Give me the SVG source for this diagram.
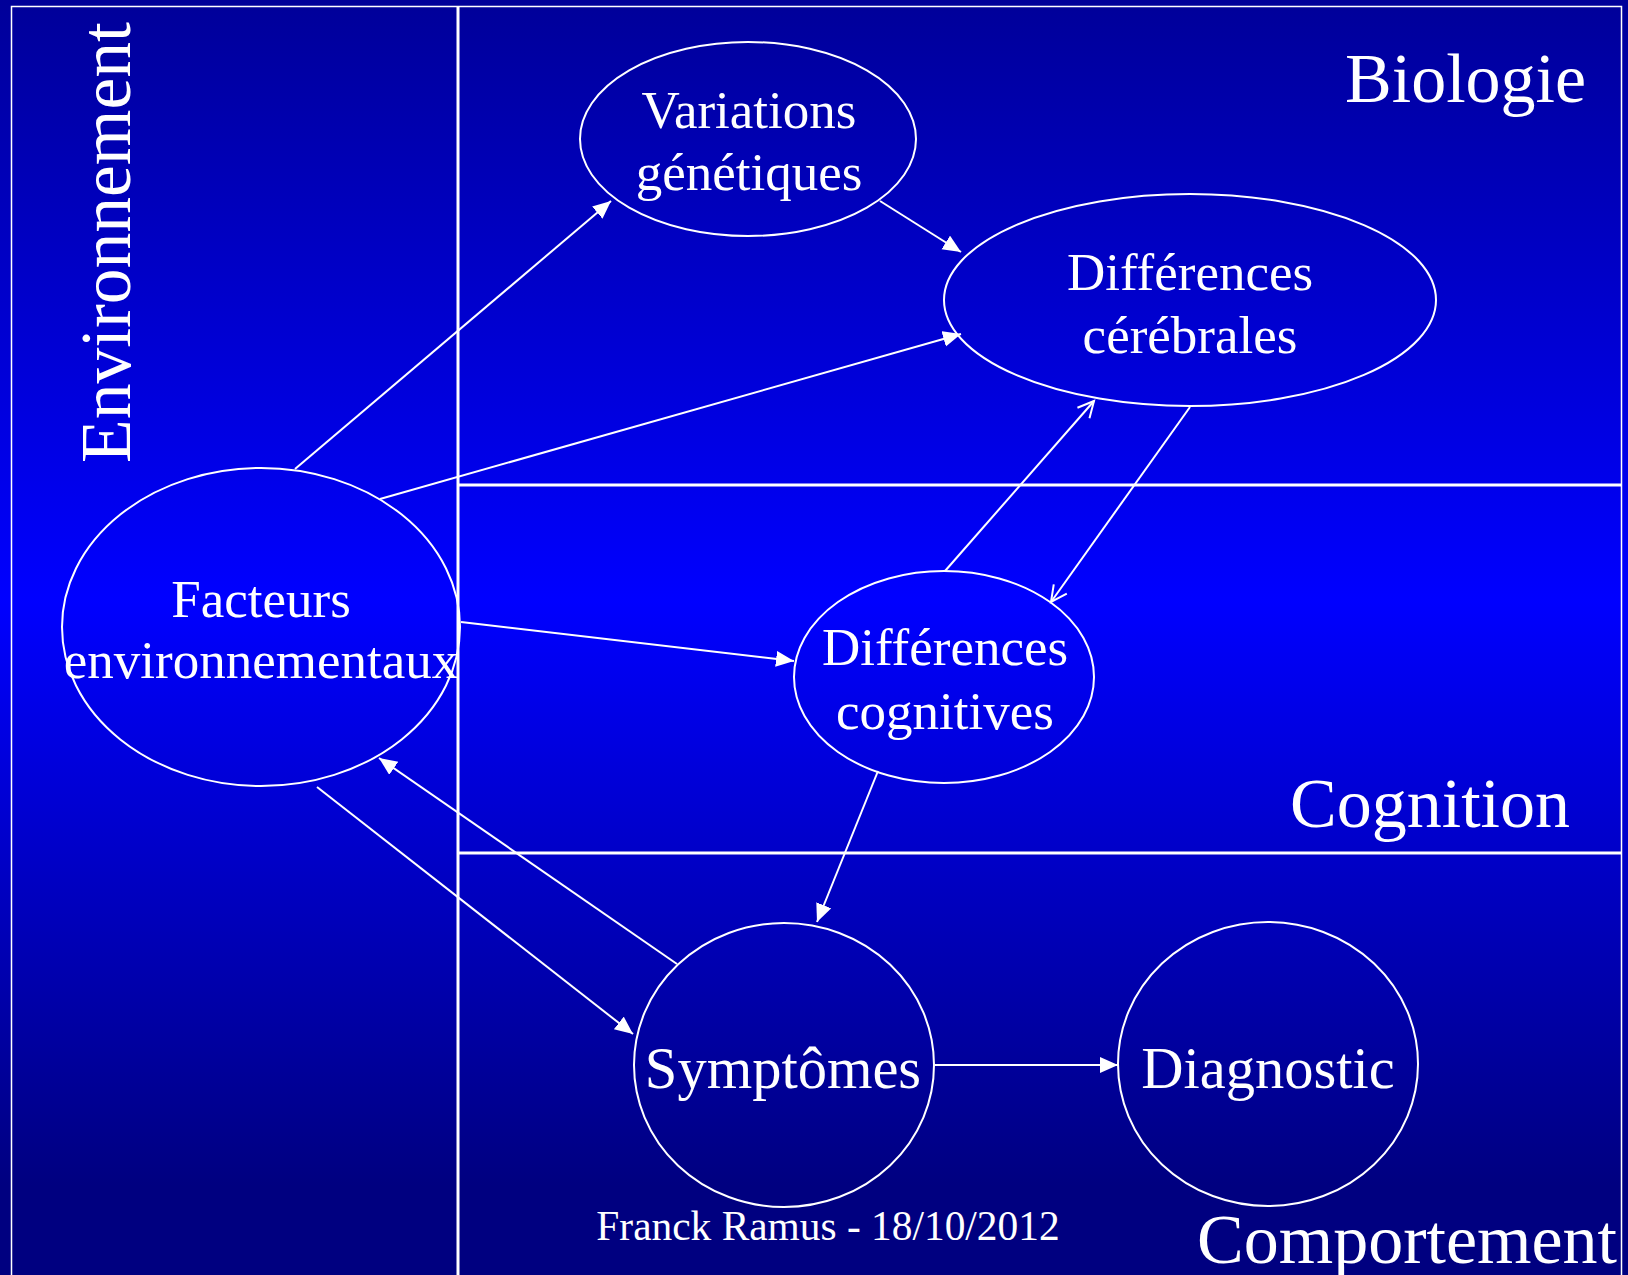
<svg xmlns="http://www.w3.org/2000/svg" width="1628" height="1275" viewBox="0 0 1628 1275">
<defs>
<linearGradient id="bg" x1="0" y1="0" x2="0" y2="1">
<stop offset="0" stop-color="#000099"/>
<stop offset="0.47" stop-color="#0000ff"/>
<stop offset="0.93" stop-color="#000080"/>
<stop offset="1" stop-color="#000080"/>
</linearGradient>
<marker id="ah" markerUnits="userSpaceOnUse" markerWidth="20" markerHeight="18" refX="18" refY="8" orient="auto">
<path d="M0,0 L18,8 L0,16 Z" fill="#fff"/>
</marker>
<marker id="av" markerUnits="userSpaceOnUse" markerWidth="22" markerHeight="22" refX="17" refY="10" orient="auto">
<path d="M1,2 L17,10 L1,18" fill="none" stroke="#fff" stroke-width="2"/>
</marker>
</defs>
<style>
.node ellipse{fill:none;stroke:#fff;stroke-width:2}
.t{font-family:"Liberation Serif","Times New Roman",serif;fill:#fff;text-anchor:middle}
.n{font-size:53px}
.nb{font-size:58.5px}
.r{font-family:"Liberation Serif","Times New Roman",serif;fill:#fff;font-size:70px}
.rv{font-size:71.5px}
.c line{stroke:#fff;stroke-width:2;marker-end:url(#ah)}
.c line.o{marker-end:url(#av)}
.frame{fill:none;stroke:#fff}
</style>
<rect x="0" y="0" width="1628" height="1275" fill="url(#bg)"/>
<g id="frame">
<rect class="frame" x="11.5" y="6.5" width="1610" height="1280" stroke-width="1.5"/>
<line class="frame" x1="458" y1="6" x2="458" y2="1275" stroke-width="3"/>
<line class="frame" x1="458" y1="485" x2="1622" y2="485" stroke-width="3"/>
<line class="frame" x1="458" y1="853" x2="1622" y2="853" stroke-width="3"/>
</g>
<g id="regions">
<text class="r" x="1345" y="102">Biologie</text>
<text class="r" x="1290" y="827">Cognition</text>
<text class="r" x="1197" y="1263">Comportement</text>
<text class="r rv" transform="translate(130,463) rotate(-90)" x="0" y="0">Environnement</text>
</g>
<g id="variations" class="node">
<ellipse cx="748" cy="139" rx="168" ry="97"/>
<text class="t n" x="749" y="128">Variations</text>
<text class="t n" x="749" y="190">génétiques</text>
</g>
<g id="cerebrales" class="node">
<ellipse cx="1190" cy="300" rx="246" ry="106"/>
<text class="t n" x="1190" y="290">Différences</text>
<text class="t n" x="1190" y="353">cérébrales</text>
</g>
<g id="facteurs" class="node">
<ellipse cx="261" cy="627" rx="199" ry="159"/>
<text class="t n" x="261" y="617">Facteurs</text>
<text class="t n" x="261" y="678">environnementaux</text>
</g>
<g id="cognitives" class="node">
<ellipse cx="944" cy="677" rx="150" ry="106"/>
<text class="t n" x="945" y="665">Différences</text>
<text class="t n" x="945" y="729">cognitives</text>
</g>
<g id="symptomes" class="node">
<ellipse cx="784" cy="1065" rx="150" ry="142"/>
<text class="t nb" x="783" y="1088">Symptômes</text>
</g>
<g id="diagnostic" class="node">
<ellipse cx="1268" cy="1064" rx="150" ry="142"/>
<text class="t nb" x="1268" y="1088">Diagnostic</text>
</g>
<g id="connectors" class="c">
<line x1="295" y1="469" x2="611" y2="201"/>
<line x1="880" y1="201" x2="961" y2="252"/>
<line x1="380" y1="499" x2="961" y2="334"/>
<line class="o" x1="945" y1="571" x2="1094" y2="401"/>
<line class="o" x1="1190" y1="407" x2="1051" y2="602"/>
<line x1="461" y1="622" x2="794" y2="661"/>
<line x1="878" y1="771" x2="817" y2="922"/>
<line x1="677" y1="964" x2="379" y2="758"/>
<line x1="317" y1="787" x2="633" y2="1034"/>
<line x1="935" y1="1065" x2="1118" y2="1065"/>
</g>
<text id="footer" class="t" x="828" y="1240" style="font-size:41.4px">Franck Ramus - 18/10/2012</text>
</svg>
